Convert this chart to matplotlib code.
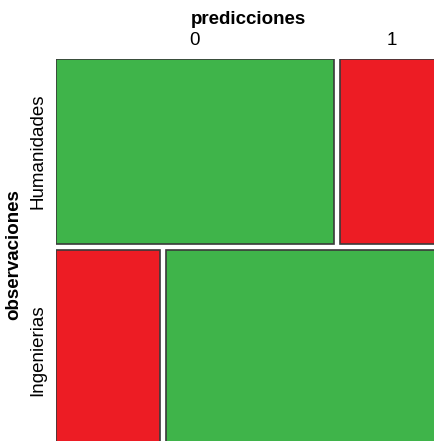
import matplotlib.pyplot as plt
from matplotlib.patches import Rectangle

plt.rcParams["font.family"] = ["Liberation Sans", "DejaVu Sans"]

# mosaic data: rows = observaciones, cols = predicciones
observaciones = ["Humanidades", "Ingenierias"]
predicciones = ["0", "1"]
counts = [[72, 27],   # Humanidades
          [29, 78]]   # Ingenierias
colores = [["#3fb44a", "#ed1c24"],
           ["#ed1c24", "#3fb44a"]]

fig = plt.figure(figsize=(4.35, 4.41), dpi=100)
W, H = 435, 441
# axes spans the mosaic, which runs past the right/bottom edge of the figure
x0, x1 = 56, 444
y0, y1 = 59, 450
ax = fig.add_axes([x0 / W, 1 - y1 / H, (x1 - x0) / W, (y1 - y0) / H])
gx = 6 / 382
gy = 6 / 385
ax.set_xlim(0, 1 + gx)
ax.set_ylim(1 + gy, 0)
ax.axis("off")

total = sum(sum(r) for r in counts)
y = 0
for i, row in enumerate(counts):
    h = sum(row) / total
    x = 0
    for j, c in enumerate(row):
        w = c / sum(row)
        ax.add_patch(Rectangle((x, y), w, h, facecolor=colores[i][j],
                               edgecolor="#3a3a3a", lw=1.2))
        if i == 0:
            ax.text(x + w / 2, -0.026, predicciones[j], ha="center", va="bottom",
                    fontsize=13.5, clip_on=False)
        x += w + gx
    ax.text(-0.026, y + h / 2, observaciones[i], ha="right", va="center",
            rotation=90, fontsize=13.5, clip_on=False)
    y += h + gy

fig.text(248 / W, 1 - 19 / H, "predicciones", ha="center", va="center",
         fontsize=13.5, fontweight="bold")
fig.text(14 / W, 1 - 255 / H, "observaciones", ha="center", va="center",
         rotation=90, fontsize=13.5, fontweight="bold")

fig.savefig("out.png", dpi=100)
